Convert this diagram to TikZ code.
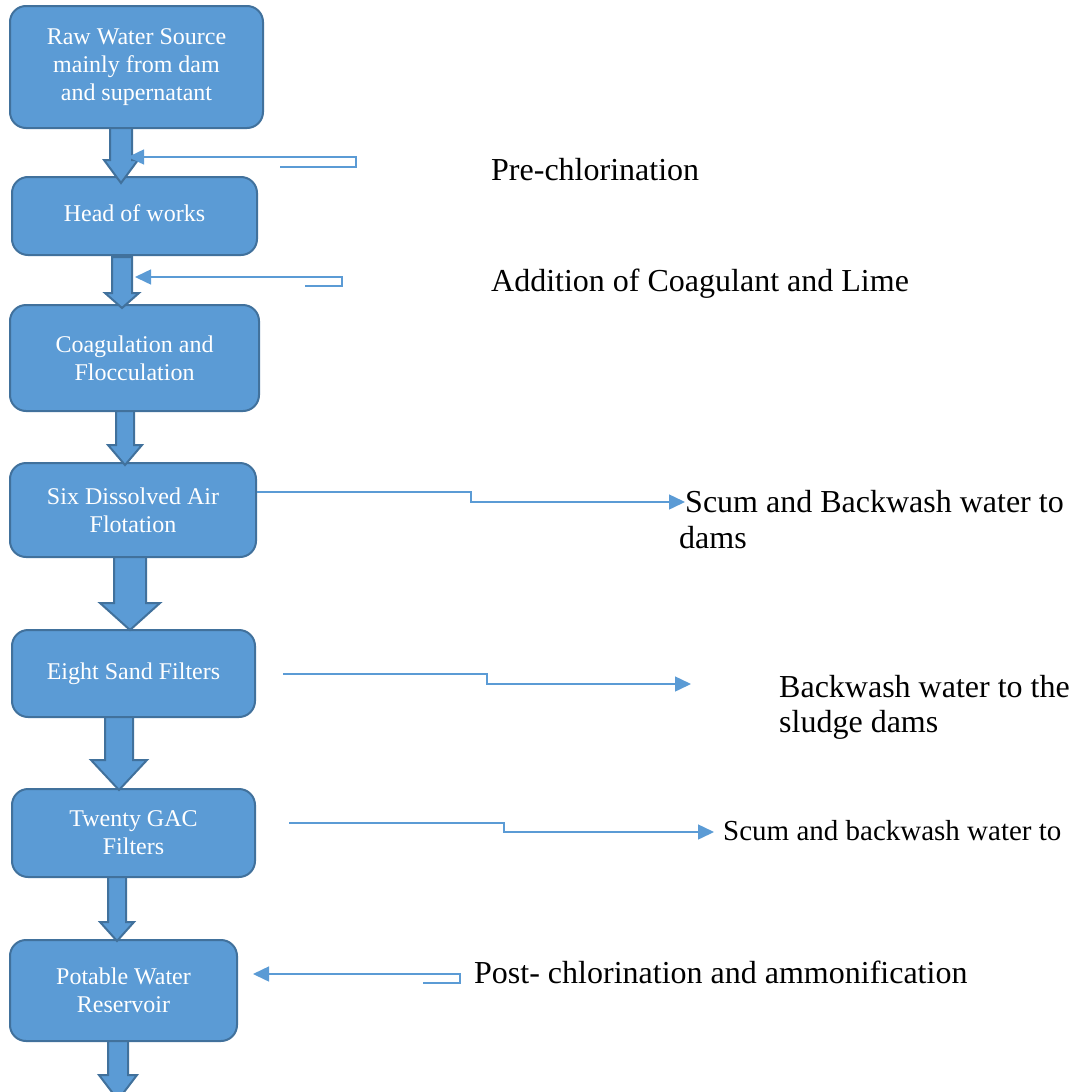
\documentclass[tikz,border=0pt]{standalone}
\usepackage{fontspec}
\setmainfont{Liberation Serif}
\usetikzlibrary{arrows.meta}
\definecolor{boxfill}{HTML}{5B9BD5}
\definecolor{boxline}{HTML}{41719C}
% block arrow pointing down: centre x, shaft half width, head half width, top, head start, tip
\newcommand\downflow[6]{%
  \filldraw[flow] (#1-#2,#4) -- (#1+#2,#4) -- (#1+#2,#5) -- (#1+#3,#5) -- (#1,#6)
    -- (#1-#3,#5) -- (#1-#2,#5) -- cycle;}
\begin{document}
\begin{tikzpicture}[x=1pt,y=-1pt,
  stage/.style={draw=boxline, fill=boxfill, line width=2pt, rounded corners=16pt,
    text=white, align=center, font=\fontsize{24}{28}\selectfont, inner sep=0pt},
  flow/.style={draw=boxline, fill=boxfill, line width=2pt, line join=miter},
  feed/.style={draw=boxfill, line width=1.5pt, -{Triangle[length=16pt,width=15pt]}},
  note/.style={anchor=base west, inner sep=0pt, font=\fontsize{32}{38}\selectfont}]
\useasboundingbox (0,0) rectangle (1073,1092);

% treatment stages
\node[stage, minimum width=253pt, minimum height=122pt] (raw) at (136.5,67)
  {Raw Water Source\\mainly from dam\\and supernatant};
\node[stage, minimum width=245pt, minimum height=78pt] (head) at (134.5,216)
  {\raisebox{5pt}{Head of works}};
\node[stage, minimum width=249pt, minimum height=106pt] (coag) at (134.5,358)
  {Coagulation and\\Flocculation};
\node[stage, minimum width=246pt, minimum height=94pt] (daf) at (133,510)
  {Six Dissolved Air\\Flotation};
\node[stage, minimum width=243pt, minimum height=87pt] (sand) at (133.5,673.5)
  {\raisebox{5pt}{Eight Sand Filters}};
\node[stage, minimum width=243pt, minimum height=88pt] (gac) at (133.5,833)
  {Twenty GAC\\Filters};
\node[stage, minimum width=227pt, minimum height=101pt] (potable) at (123.5,990.5)
  {Potable Water\\Reservoir};

% flow between stages
\downflow{121}{11}{17}{128}{160}{183}
\downflow{122}{10}{17}{257}{293}{308}
\downflow{125}{9}{17}{411}{445}{465}
\downflow{130}{16}{30}{557}{603}{630}
\downflow{119}{14}{28}{717}{760}{790}
\downflow{117}{9}{17}{877}{922}{941}
\downflow{118}{10}{19}{1041}{1075}{1100}

% dosing and waste lines
\coordinate (pcin) at (280,167);
\coordinate (pctip) at (128,157);
\draw[feed] (pcin) -- (356,167) -- (356,157) -- (pctip);

\coordinate (cgin) at (305,286);
\coordinate (cgtip) at (135,277);
\draw[feed] (cgin) -- (342,286) -- (342,277) -- (cgtip);

\coordinate (dafend) at (685,502);
\draw[feed] ([yshift=18pt]daf.east) -- (471,492) -- (471,502) -- (dafend);

\coordinate (sandout) at (283,674);
\coordinate (sandend) at (691,684);
\draw[feed] (sandout) -- (487,674) -- (487,684) -- (sandend);

\coordinate (gacout) at (289,823);
\coordinate (gacend) at (714,832);
\draw[feed] (gacout) -- (504,823) -- (504,832) -- (gacend);

\coordinate (postin) at (423,983);
\coordinate (posttip) at (253,974);
\draw[feed] (postin) -- (460,983) -- (460,974) -- (posttip);

% notes
\node[note] (prechl) at (491,180) {Pre-chlorination};
\node[note] (coagnote) at (491,291) {Addition of Coagulant and Lime};
\node[note] (scumA) at (685,512) {Scum and Backwash water to};
\node[note] (scumB) at (679,548) {dams};
\node[note] (bwA) at (779,697) {Backwash water to the};
\node[note] (bwB) at (779,732) {sludge dams};
\node[note, font=\fontsize{29}{34}\selectfont] (scumC) at (723,840) {Scum and backwash water to};
\node[note] (postnote) at (474,983) {Post- chlorination and ammonification};
\end{tikzpicture}
\end{document}
